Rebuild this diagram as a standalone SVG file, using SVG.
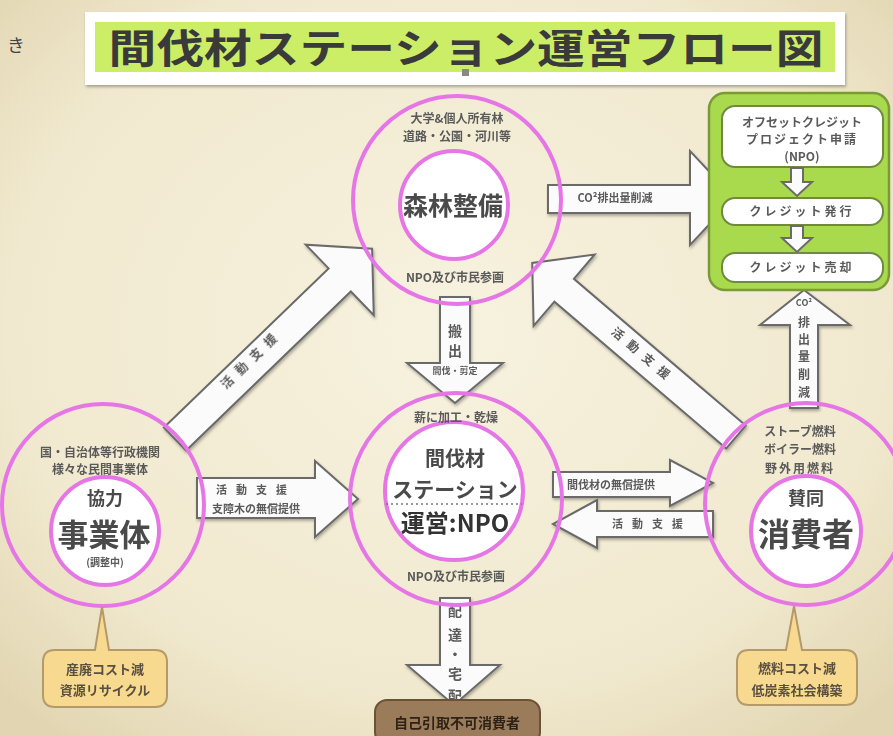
<svg xmlns="http://www.w3.org/2000/svg" width="893" height="736" viewBox="0 0 893 736">
<defs>
<radialGradient id="bg" cx="50%" cy="45%" r="70%">
<stop offset="0" stop-color="#f7f2df"/>
<stop offset="0.7" stop-color="#f1e9cf"/>
<stop offset="1" stop-color="#e2d6b2"/>
</radialGradient>
<filter id="sh" x="-10%" y="-10%" width="130%" height="140%">
<feDropShadow dx="1" dy="2" stdDeviation="1.5" flood-color="#000" flood-opacity="0.3"/>
</filter>
</defs>
<style>
text{font-family:"Noto Sans CJK JP","Noto Sans",sans-serif;text-anchor:middle;font-weight:bold;fill:#5a5a5a}
.outer{fill:none;stroke:#e676e6;stroke-width:4}
.inner{fill:#ffffff;stroke:#e676e6;stroke-width:4}
.arr{fill:#fbfbfb;stroke:#6a6a6a;stroke-width:2;stroke-linejoin:miter}
.s12{font-size:12px}
.s11{font-size:11px}
.big{fill:#4a4a4a}
.gbox{fill:#ffffff;stroke:#6f8a40;stroke-width:2}
.call{fill:#f7d990;stroke:#b49a6a;stroke-width:2}
</style>
<rect width="893" height="736" fill="url(#bg)"/>
<text x="16" y="52" style="font-size:18px;font-weight:normal;fill:#444">き</text>

<g id="title">
<rect x="85" y="12" width="760" height="73" fill="#ffffff" filter="url(#sh)"/>
<rect x="95" y="22" width="740" height="50" fill="#ccee66"/>
<text x="466" y="63" textLength="715" lengthAdjust="spacingAndGlyphs" style="font-size:40px;fill:#3a3a3a">間伐材ステーション運営フロー図</text>
<rect x="462" y="69" width="7" height="7" fill="#888"/>
</g>

<g id="connectors" filter="url(#sh)">
<polygon class="arr" points="0,-16 229,-16 229,-49 274,0 229,49 229,16 0,16" transform="translate(175,439) rotate(-44)"/>
<polygon class="arr" points="0,-15 226,-15 226,-47 268,0 226,47 226,15 0,15" transform="translate(736,437) rotate(220.5)"/>
<polygon class="arr" points="548,185 690,185 690,151 734,198 690,245 690,213 548,213"/>
<polygon class="arr" points="790,408 790,325 760,325 804,290 850,325 818,325 818,408"/>
<polygon class="arr" points="440,297 470,297 470,363 503,363 455,403 407,363 440,363"/>
<polygon class="arr" points="197,478 315,478 315,461 358,499 315,537 315,518 197,518"/>
<polygon class="arr" points="553,472 670,472 670,460 713,483 670,506 670,497 553,497"/>
<polygon class="arr" points="713,511 597,511 597,500 553,524 597,548 597,537 713,537"/>
<polygon class="arr" points="440,598 470,598 470,665 500,665 454,705 407,665 440,665"/>
</g>

<g id="connector-labels">
<text class="s12" transform="translate(255,362) rotate(-44)" letter-spacing="8">活動支援</text>
<text class="s12" transform="translate(641,359) rotate(40.5)" letter-spacing="8">活動支援</text>
<text class="s11" x="615" y="202">CO²排出量削減</text>
<text x="804" y="306" style="font-size:9px">CO²</text>
<text class="s12" x="804" y="327">排</text>
<text class="s12" x="804" y="344">出</text>
<text class="s12" x="804" y="361">量</text>
<text class="s12" x="804" y="379">削</text>
<text class="s12" x="804" y="397">減</text>
<text x="455" y="336" style="font-size:14px">搬</text>
<text x="455" y="356" style="font-size:14px">出</text>
<text x="455" y="374" style="font-size:9px">間伐・剪定</text>
<text class="s11" x="256" y="494" letter-spacing="9">活動支援</text>
<text class="s11" x="256" y="513">支障木の無償提供</text>
<text class="s11" x="611" y="489">間伐材の無償提供</text>
<text class="s11" x="652" y="528" letter-spacing="9">活動支援</text>
<text x="455" y="616" style="font-size:14px">配</text>
<text x="455" y="640" style="font-size:14px">達</text>
<text x="455" y="659" style="font-size:14px">・</text>
<text x="455" y="679" style="font-size:14px">宅</text>
<text x="455" y="701" style="font-size:14px">配</text>
</g>

<g id="forest">
<circle class="outer" cx="457" cy="200" r="104"/>
<circle class="inner" cx="454" cy="205" r="54"/>
<text class="s12" x="457" y="123">大学&amp;個人所有林</text>
<text class="s12" x="457" y="141">道路・公園・河川等</text>
<text class="big" x="453" y="215" style="font-size:25px">森林整備</text>
<text class="s12" x="455" y="282">NPO及び市民参画</text>
</g>

<g id="credit">
<rect x="709" y="93" width="180" height="197" rx="16" fill="#a9d94c" stroke="#7a9a3a" stroke-width="2.5"/>
<rect class="gbox" x="722" y="106" width="161" height="61" rx="13"/>
<text class="s12" x="802" y="127">オフセットクレジット</text>
<text class="s12" x="802" y="144" letter-spacing="2">プロジェクト申請</text>
<text class="s12" x="802" y="161">(NPO)</text>
<polygon class="arr" points="791,168 803,168 803,182 812,182 797,196 782,182 791,182"/>
<rect class="gbox" x="722" y="198" width="161" height="27" rx="13"/>
<text class="s12" x="802" y="216" letter-spacing="3">クレジット発行</text>
<polygon class="arr" points="791,226 803,226 803,238 812,238 797,252 782,238 791,238"/>
<rect class="gbox" x="722" y="253" width="161" height="29" rx="13"/>
<text class="s12" x="802" y="272" letter-spacing="3">クレジット売却</text>
</g>

<g id="partner">
<circle class="outer" cx="103" cy="505" r="101"/>
<circle class="inner" cx="105" cy="531" r="54"/>
<text class="s12" x="100" y="457">国・自治体等行政機関</text>
<text class="s12" x="100" y="474">様々な民間事業体</text>
<text class="big" x="105" y="505" style="font-size:18px">協力</text>
<text class="big" x="104" y="546" style="font-size:31px">事業体</text>
<text x="105" y="566" style="font-size:10px">(調整中)</text>
</g>

<g id="station">
<circle class="outer" cx="456" cy="499" r="106"/>
<circle class="inner" cx="454" cy="491" r="69"/>
<text class="s12" x="456" y="422">薪に加工・乾燥</text>
<text class="big" x="455" y="466" style="font-size:20px">間伐材</text>
<text class="big" x="455" y="497" style="font-size:21px">ステーション</text>
<line x1="386" y1="504" x2="522" y2="504" stroke="#777" stroke-width="1.5" stroke-dasharray="2,3"/>
<text class="big" x="455" y="532" style="font-size:24px;fill:#333">運営:NPO</text>
<text class="s12" x="456" y="581">NPO及び市民参画</text>
</g>

<g id="consumer">
<circle class="outer" cx="806" cy="504" r="101"/>
<circle class="inner" cx="806" cy="531" r="55"/>
<text class="s12" x="800" y="436">ストーブ燃料</text>
<text class="s12" x="800" y="454">ボイラー燃料</text>
<text class="s12" x="800" y="473" letter-spacing="2">野外用燃料</text>
<text class="big" x="806" y="505" style="font-size:18px">賛同</text>
<text class="big" x="806" y="546" style="font-size:32px">消費者</text>
</g>

<g id="callout-left">
<path class="call" d="M55,650 L95,650 L102,607 L109,650 L155,650 Q167,650 167,662 L167,695 Q167,707 155,707 L55,707 Q43,707 43,695 L43,662 Q43,650 55,650 Z"/>
<text x="105" y="674" style="font-size:13px;fill:#5a5040">産廃コスト減</text>
<text x="105" y="695" style="font-size:13px;fill:#5a5040">資源リサイクル</text>
</g>

<g id="callout-right">
<path class="call" d="M749,650 L786,650 L794,606 L802,650 L845,650 Q857,650 857,662 L857,693 Q857,705 845,705 L749,705 Q737,705 737,693 L737,662 Q737,650 749,650 Z"/>
<text x="797" y="673" style="font-size:13px;fill:#5a5040">燃料コスト減</text>
<text x="797" y="695" style="font-size:13px;fill:#5a5040">低炭素社会構築</text>
</g>

<g id="self-pickup">
<rect x="375" y="700" width="165" height="44" rx="12" fill="#9a7b5a" stroke="#6b5234" stroke-width="2"/>
<text x="457" y="728" style="font-size:14px;fill:#2e2216">自己引取不可消費者</text>
</g>
</svg>
